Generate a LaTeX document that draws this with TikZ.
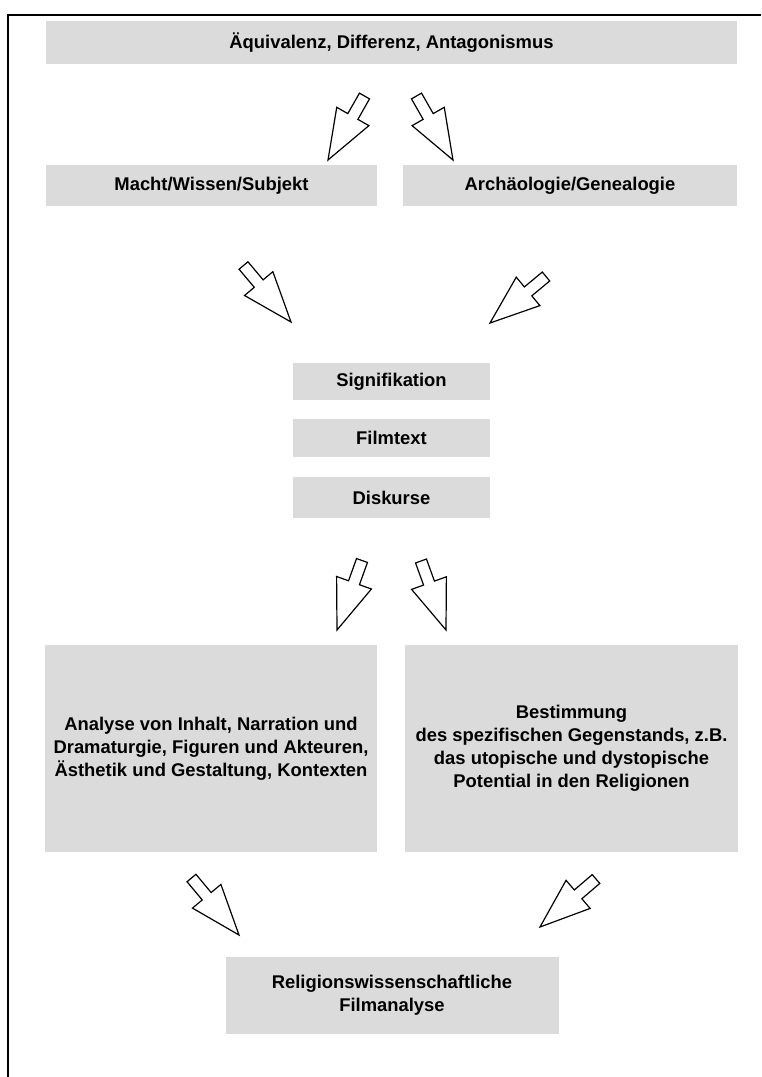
\documentclass[tikz,border=0pt]{standalone}
\usepackage{fontspec}
\setmainfont{Liberation Sans}
\usetikzlibrary{calc}
\definecolor{boxgrey}{rgb}{0.86,0.86,0.86}

% hollow block arrow from tail (#1) to tip (#2)
\newcommand{\hollowarrow}[2]{%
  \coordinate (hb) at ($(#1)!0.32!(#2)$);
  \draw[arrowline] ($(#1)!2.9pt!90:(#2)$) -- ($(hb)!2.9pt!90:(#2)$) -- ($(hb)!9.25pt!90:(#2)$) -- (#2)
    -- ($(hb)!9.25pt!-90:(#2)$) -- ($(hb)!2.9pt!-90:(#2)$) -- ($(#1)!2.9pt!-90:(#2)$) -- cycle;
}

\begin{document}
\begin{tikzpicture}[x=0.5pt, y=-0.5pt,
  greybox/.style={fill=boxgrey, inner sep=0pt, align=center, font=\bfseries\fontsize{9.2}{11.5}\selectfont},
  arrowline/.style={draw=black, line width=0.6pt, fill=white, line join=miter}]
\useasboundingbox (0,0) rectangle (761,1077);
\draw[line width=1.1pt] (8,1077) -- (8,15) -- (761,15);

\node[greybox, minimum width=345.5pt, minimum height=21.5pt] (aequi) at (391.5,42.5) {Äquivalenz, Differenz, Antagonismus};
\node[greybox, minimum width=165.5pt, minimum height=20.5pt] (macht) at (211.5,185.5) {Macht/Wissen/Subjekt};
\node[greybox, minimum width=167pt, minimum height=20.5pt] (archae) at (570,185.5) {Archäologie/Genealogie};
\node[greybox, minimum width=98.5pt, minimum height=18.5pt] (signif) at (391.5,381.5) {Signifikation};
\node[greybox, minimum width=98.5pt, minimum height=19pt] (filmtext) at (391.5,438) {Filmtext};
\node[greybox, minimum width=98.5pt, minimum height=20.5pt] (diskurse) at (391.5,497.5) {Diskurse};
\node[greybox, minimum width=166pt, minimum height=103.5pt] (analyse) at (211,748.5)
  {Analyse von Inhalt, Narration und\\Dramaturgie, Figuren und Akteuren,\\Ästhetik und Gestaltung, Kontexten};
\node[greybox, minimum width=166.5pt, minimum height=103.5pt] (bestimm) at (571.5,748.5)
  {Bestimmung\\des spezifischen Gegenstands, z.B.\\das utopische und dystopische\\Potential in den Religionen};
\node[greybox, minimum width=166.5pt, minimum height=38.5pt] (religion) at (392,995)
  {Religionswissenschaftliche\\Filmanalyse};

% arrow tails and tips
\coordinate (t1) at (364.5,96);  \coordinate (h1) at (328,160);
\coordinate (t2) at (416.5,96);  \coordinate (h2) at (453,160);
\coordinate (t3) at (243.5,265.5); \coordinate (h3) at (291,322);
\coordinate (t4) at (546,276.5); \coordinate (h4) at (490,323);
\coordinate (t5) at (362,560.5); \coordinate (h5) at (337,630);
\coordinate (t6) at (421,561);   \coordinate (h6) at (446,630);
\coordinate (t7) at (191.5,878); \coordinate (h7) at (239,935);
\coordinate (t8) at (596,879);   \coordinate (h8) at (540,927);
\foreach \i in {1,...,8} \hollowarrow{t\i}{h\i};
\end{tikzpicture}
\end{document}
